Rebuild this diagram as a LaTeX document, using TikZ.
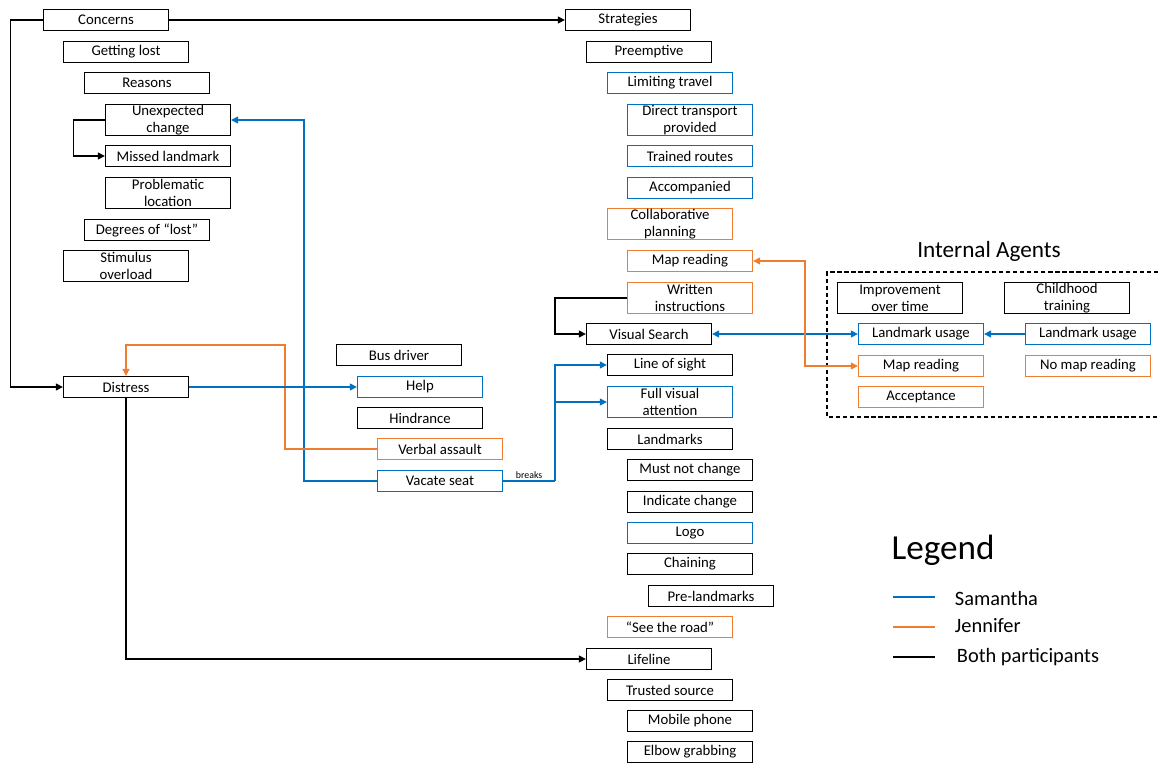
\documentclass[tikz,border=0pt]{standalone}
\usepackage{fontspec}
\setmainfont{Carlito}
\usetikzlibrary{arrows.meta}
\definecolor{samblue}{RGB}{0,112,192}
\definecolor{jenorange}{RGB}{237,125,49}

\begin{document}
\begin{tikzpicture}[x=0.025cm,y=-0.025cm,
	box/.style={draw,line width=0.9pt,minimum width=3.125cm,minimum height=0.525cm,inner sep=0pt,align=center,font=\fontsize{10.5}{12}\selectfont},
	tall/.style={minimum height=0.79cm},
	sam/.style={draw=samblue},
	jen/.style={draw=jenorange},
	link/.style={line width=0.9pt,-{Triangle[length=5pt,width=5pt]}},
	twoway/.style={line width=0.9pt,{Triangle[length=5pt,width=5pt]}-{Triangle[length=5pt,width=5pt]}}]
	\useasboundingbox (0,0) rectangle (1160,763);
	% concerns
	\node [box] (concerns) at (106,20) {Concerns};
	\node [box] (lost) at (126,52) {Getting lost};
	\node [box] (reasons) at (147,83) {Reasons};
	\node [box,tall] (unexp) at (168,120) {Unexpected\\change};
	\node [box] (missed) at (168,156) {Missed landmark};
	\node [box,tall] (problem) at (168,193) {Problematic\\location};
	\node [box] (degrees) at (147,230) {Degrees of “lost”};
	\node [box,tall] (stimulus) at (126,266) {Stimulus\\overload};
	% distress
	\node [box] (distress) at (126,387) {Distress};
	\node [box] (driver) at (399,355) {Bus driver};
	\node [box,sam] (help) at (420,387) {Help};
	\node [box] (hindrance) at (420,418) {Hindrance};
	\node [box,jen] (verbal) at (440,449) {Verbal assault};
	\node [box,sam] (vacate) at (440,481) {Vacate seat};
	% strategies
	\node [box] (strategies) at (628,20) {Strategies};
	\node [box] (preempt) at (649,52) {Preemptive};
	\node [box,sam] (limit) at (670,83) {Limiting travel};
	\node [box,sam,tall] (direct) at (690,120) {Direct transport\\provided};
	\node [box,sam] (trained) at (690,156) {Trained routes};
	\node [box,sam] (accomp) at (690,188) {Accompanied};
	\node [box,jen,tall] (collab) at (670,224) {Collaborative\\planning};
	\node [box,jen] (mapread) at (690,261) {Map reading};
	\node [box,jen,tall] (written) at (690,298) {Written\\instructions};
	\node [box] (visual) at (649,334) {Visual Search};
	\node [box] (sight) at (670,365) {Line of sight};
	\node [box,sam,tall] (fullvis) at (670,402) {Full visual\\attention};
	\node [box] (landmarks) at (670,439) {Landmarks};
	\node [box] (mustnot) at (690,470) {Must not change};
	\node [box] (indicate) at (690,502) {Indicate change};
	\node [box,sam] (logo) at (690,533) {Logo};
	\node [box] (chaining) at (690,564) {Chaining};
	\node [box] (prelm) at (711,596) {Pre-landmarks};
	\node [box,jen] (road) at (670,627) {“See the road”};
	\node [box] (lifeline) at (649,659) {Lifeline};
	\node [box] (trusted) at (670,690) {Trusted source};
	\node [box] (mobile) at (690,721) {Mobile phone};
	\node [box] (elbow) at (690,752) {Elbow grabbing};
	% internal agents
	\node [font=\fontsize{16.5}{18}\selectfont] (agents) at (989,251) {Internal Agents};
	\draw [dashed,line width=0.9pt,dash pattern=on 3pt off 2pt] (1165,272) -- (827,272) -- (827,417) -- (1165,417);
	\node [box,tall] (improve) at (900,298) {Improvement\\over time};
	\node [box,tall] (child) at (1067,298) {Childhood\\training};
	\node [box,sam] (lmleft) at (921,334) {Landmark usage};
	\node [box,sam] (lmright) at (1088,334) {Landmark usage};
	\node [box,jen] (mapleft) at (921,366) {Map reading};
	\node [box,jen] (nomap) at (1088,366) {No map reading};
	\node [box,jen] (accept) at (921,397) {Acceptance};
	% connectors
	\draw [link] (concerns.east) -- (strategies.west);
	\draw [link] (concerns.west) -- ++(-32,0) |- (distress.west);
	\draw [link] (unexp.west) -- ++(-31,0) |- (missed.west);
	\draw [link,samblue] (vacate.west) -| (304,120) -- (unexp.east);
	\draw [link,jenorange] (verbal.west) -| (285,345) -| (distress.north);
	\draw [link,samblue] (distress.east) -- (help.west);
	\draw [link] (distress.south) |- (lifeline.west);
	\coordinate (brk) at (555,481);
	\draw [line width=0.9pt,samblue] (vacate.east) -- (brk) node [midway,above,font=\fontsize{7}{8}\selectfont,text=black,inner sep=1.5pt] (breaks) {breaks};
	\draw [link,samblue] (brk) |- (sight.west);
	\draw [link,samblue] (brk) |- (fullvis.west);
	\draw [link] (written.west) -| (555,334) -- (visual.west);
	\draw [twoway,samblue] (visual.east) -- (lmleft.west);
	\draw [twoway,jenorange] (mapread.east) -| (805,366) -- (mapleft.west);
	\draw [link,samblue] (lmright.west) -- (lmleft.east);
	% legend
	\node [font=\fontsize{25}{28}\selectfont] (legend) at (943,550) {Legend};
	\draw [line width=0.9pt,samblue] (893,597) -- (935,597);
	\draw [line width=0.9pt,jenorange] (893,627) -- (935,627);
	\draw [line width=0.9pt] (893,657) -- (935,657);
	\node [anchor=west,font=\fontsize{14.5}{16}\selectfont] (samantha) at (950,598) {Samantha};
	\node [anchor=west,font=\fontsize{14.5}{16}\selectfont] (jennifer) at (950,626) {Jennifer};
	\node [anchor=west,font=\fontsize{14.5}{16}\selectfont] (both) at (952,657) {Both participants};
\end{tikzpicture}
\end{document}
